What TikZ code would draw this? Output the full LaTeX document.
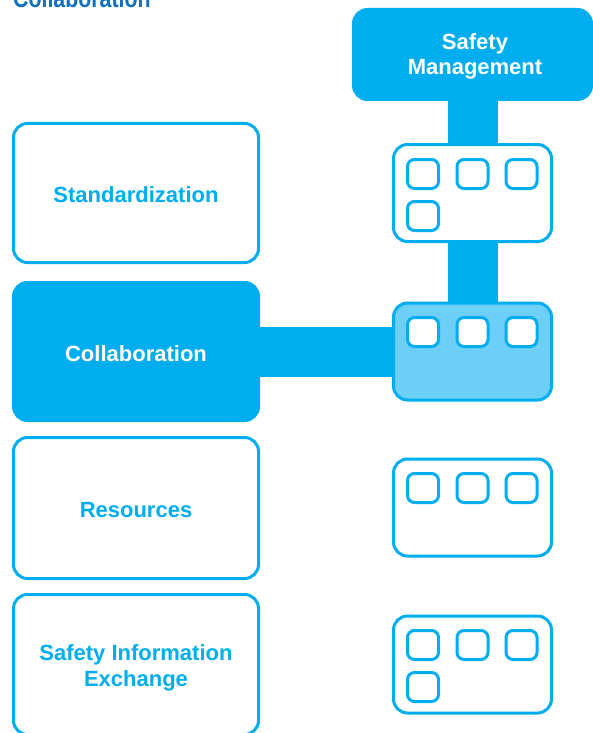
\documentclass[tikz,border=0pt]{standalone}
\usepackage{fontspec}
\setmainfont{Liberation Sans}
\usetikzlibrary{backgrounds}
\definecolor{cy}{HTML}{00AEEF}
\definecolor{lcy}{HTML}{6DCFF6}
\definecolor{tb}{HTML}{0F6FC2}
\newcommand\mylbl[2]{\raisebox{#1}[0pt][0pt]{\begin{tabular}[t]{@{}c@{}}#2\end{tabular}}}
\tikzset{
  labfont/.style={font=\fontsize{22}{26}\selectfont\bfseries},
  leftbox/.style={draw=cy, line width=3pt, rounded corners=14pt, fill=white,
    minimum width=245pt, minimum height=#1, inner sep=0pt, text=cy,
    labfont, align=center},
  rightbox/.style={draw=cy, line width=3pt, rounded corners=14pt, fill=white,
    minimum width=158pt, minimum height=97pt, inner sep=0pt},
  sq/.style={draw=cy, line width=3pt, rounded corners=7pt, fill=white,
    minimum width=31pt, minimum height=29pt, inner sep=0pt},
  conn/.style={draw=cy, line width=50pt},
}
\begin{document}
\begin{tikzpicture}[x=1pt,y=-1pt]
\useasboundingbox (0,0) rectangle (592,733);

% title (cut at top)
\node[anchor=base west, inner sep=0pt, text=tb,
      font=\fontsize{26}{26}\selectfont\bfseries] (title) at (13,7.5)
      {\scalebox{0.82}[1]{Collaboration}};

% Safety Management
\node[draw=cy, fill=cy, line width=3pt, rounded corners=14pt,
      minimum width=238pt, minimum height=90pt, inner sep=0pt,
      text=white, font=\fontsize{22}{25}\selectfont\bfseries] (sm) at (472.5,54.5)
      {\hspace*{5pt}\mylbl{4.5pt}{Safety\\Management}};

% left column
\node[leftbox=139pt] (l1) at (136,193) {\mylbl{-9.2pt}{Standardization}};
\node[leftbox=138pt, fill=cy, text=white] (l2) at (136,351.5) {\mylbl{-9.5pt}{Collaboration}};
\node[leftbox=141pt] (l3) at (136,508) {\mylbl{-9.8pt}{Resources}};
\node[leftbox=140pt] (l4) at (136,664.5) {\mylbl{4.5pt}{Safety Information\\Exchange}};

% right column
\node[rightbox] (r1) at (472.5,193) {};
\node[rightbox, fill=lcy] (r2) at (472.5,351.5) {};
\node[rightbox] (r3) at (472.5,507.5) {};
\node[rightbox] (r4) at (472.5,664.5) {};

% small squares
\node[sq] (r1a) at (423,174) {};
\node[sq] (r1b) at (472.5,174) {};
\node[sq] (r1c) at (521.5,174) {};
\node[sq] (r1d) at (423,216) {};

\node[sq] (r2a) at (423,332) {};
\node[sq] (r2b) at (472.5,332) {};
\node[sq] (r2c) at (521.5,332) {};

\node[sq] (r3a) at (423,488) {};
\node[sq] (r3b) at (472.5,488) {};
\node[sq] (r3c) at (521.5,488) {};

\node[sq] (r4a) at (423,645) {};
\node[sq] (r4b) at (472.5,645) {};
\node[sq] (r4c) at (521.5,645) {};
\node[sq] (r4d) at (423,687) {};

% connectors behind the boxes
\begin{scope}[on background layer]
  \draw[conn] (sm.center) -- (r2.center);
  \draw[conn] (l2.center) -- (r2.center);
\end{scope}
\end{tikzpicture}
\end{document}
